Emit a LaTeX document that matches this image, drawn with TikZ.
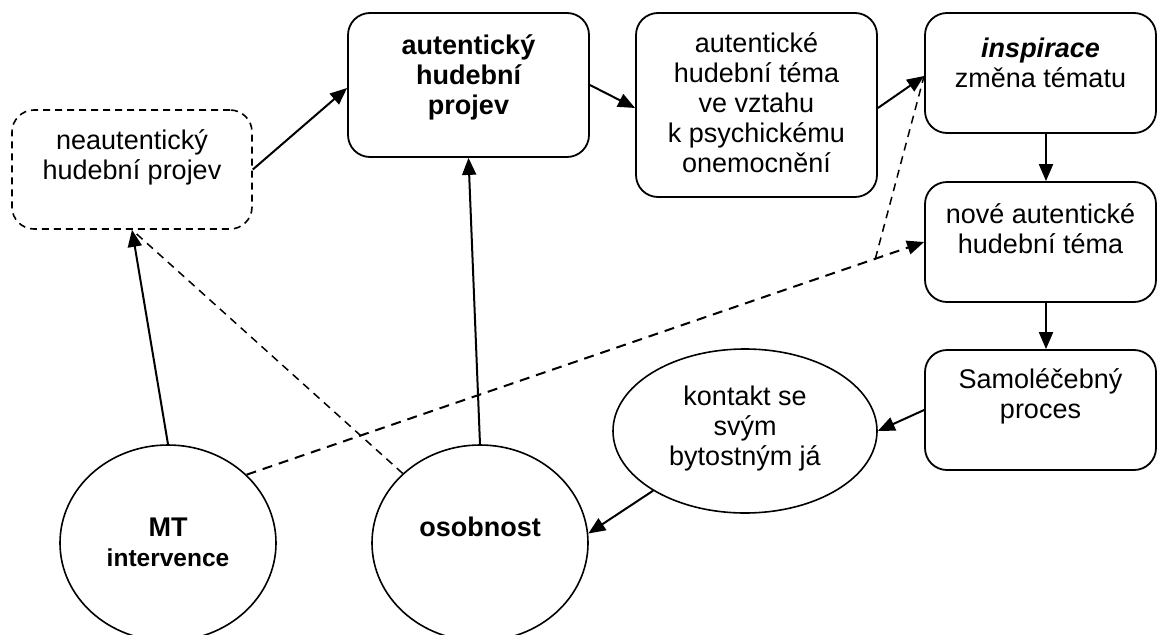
\documentclass[tikz,border=0pt]{standalone}
\usepackage{fontspec}
\setmainfont{Liberation Sans}
\usetikzlibrary{arrows.meta,shapes.geometric,calc}

\begin{document}
\begin{tikzpicture}[x=1pt,y=-1pt,
  box/.style={draw,line width=1.8pt,rounded corners=22pt,inner sep=0pt},
  dbox/.style={box,line width=1.6pt,dash pattern=on 7pt off 5pt},
  oval/.style={draw,ellipse,line width=1.6pt,inner sep=0pt},
  txt/.style={align=center,inner sep=0pt,font=\fontsize{27}{30}\selectfont},
  btxt/.style={txt,font=\fontsize{27}{30}\selectfont\bfseries},
  arr/.style={line width=2pt,-{Triangle[length=17pt,width=14pt]}},
  dline/.style={line width=1.5pt,dash pattern=on 8pt off 6pt},
  dlinebold/.style={line width=2pt,dash pattern=on 10pt off 7pt},
  ]
\useasboundingbox (0,0) rectangle (1158,634);

% boxes
\node[dbox,minimum width=240pt,minimum height=119pt] (neaut) at (132,169.5) {};
\node[box,minimum width=241pt,minimum height=144pt] (autp) at (468.5,85) {};
\node[box,minimum width=241pt,minimum height=184pt] (temab) at (756.5,105) {};
\node[box,minimum width=231pt,minimum height=120pt] (insp) at (1040.5,73) {};
\node[box,minimum width=231pt,minimum height=120pt] (nove) at (1040.5,242) {};
\node[box,minimum width=231pt,minimum height=120pt] (samo) at (1040.5,410) {};

% ellipses
\node[oval,minimum width=264pt,minimum height=164pt] (kont) at (745,431) {};
\node[oval,minimum width=216pt,minimum height=196pt] (mt) at (168,543) {};
\node[oval,minimum width=216pt,minimum height=196pt] (osob) at (480,543) {};

% texts
\node[txt] (tneaut) at (132,157.5) {neautentický\\hudební projev};
\node[btxt] (tautp) at (468.5,77) {autentický\\hudební\\projev};
\node[txt] (ttemab) at (756.5,102.5) {autentické\\hudební téma\\ve vztahu\\k psychickému\\onemocnění};
\node[txt] (tinsp) at (1040.5,62.5) {\textbf{\textit{inspirace}}\\změna tématu};
\node[txt] (tnove) at (1040.5,229) {nové autentické\\hudební téma};
\node[txt] (tsamo) at (1040.5,396) {Samoléčebný\\proces};
\node[txt] (tkont) at (745,429) {kontakt se\\svým\\bytostným já};
\node[btxt] (tmt) at (168,542) {MT\\{\fontsize{24.5}{30}\selectfont intervence}};
\node[btxt] (tosob) at (480,527) {osobnost};

% solid connectors
\draw[arr] (neaut.east) -- ([yshift=-3pt]autp.west);
\draw[arr] (autp.east) -- ([yshift=-3pt]temab.west);
\draw[arr] ([yshift=-3pt]temab.east) -- ([yshift=-3pt]insp.west);
\draw[arr] ([xshift=5.5pt]insp.south) -- ([xshift=5.5pt]nove.north);
\draw[arr] ([xshift=5.5pt]nove.south) -- ([xshift=5.5pt]samo.north);
\draw[arr] (samo.west) -- (kont.east);
\draw[arr] (kont.213.8) -- (osob.5);
\draw[arr] (mt.north) -- (neaut.south);
\draw[arr] (osob.north) -- (autp.south);

% dashed connectors
\coordinate (kink) at ($(mt.41.5)!0.928!(nove.west)$);
\draw[dlinebold,-{Triangle[length=17pt,width=14pt]}] (mt.41.5) -- (nove.west);
\draw[dline] (kink) -- ([yshift=-3pt]insp.west);
\draw[dline] (osob.138.6) -- (neaut.south);
\end{tikzpicture}
\end{document}
